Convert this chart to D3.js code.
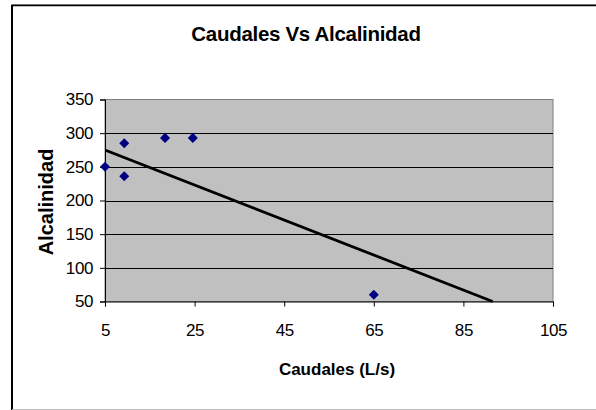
<!DOCTYPE html>
<html><head><meta charset="utf-8">
<script src="https://cdn.jsdelivr.net/npm/d3@7"></script>
<style>html,body{margin:0;padding:0;background:#fff;}svg{display:block;font-family:Arial,"Liberation Sans",sans-serif;}</style>
</head><body>
<svg id="c" width="596" height="410"></svg>
<script>
const title = "Caudales Vs Alcalinidad";
const xTitle = "Caudales (L/s)";
const yTitle = "Alcalinidad";
const caudales = [5, 9.3, 9.3, 18.4, 24.6, 65];
const alcalinidad = [250, 285, 236, 293, 293, 60];
const xTicks = [5, 25, 45, 65, 85, 105];
const yTicks = [50, 100, 150, 200, 250, 300, 350];
const trendSlope = -2.6;
const trendIntercept = 288;

const svg = d3.select("#c");
// outer frame
svg.append("rect").attr("x",0).attr("y",0).attr("width",596).attr("height",410).attr("fill","#fff");
svg.append("line").attr("x1",11).attr("x2",596).attr("y1",4.5).attr("y2",4.5).attr("stroke","#999").attr("stroke-width",1);
svg.append("line").attr("x1",12).attr("x2",596).attr("y1",5.5).attr("y2",5.5).attr("stroke","#000").attr("stroke-width",1.5);
svg.append("line").attr("x1",12).attr("x2",12).attr("y1",5).attr("y2",410).attr("stroke","#000").attr("stroke-width",2);
svg.append("line").attr("x1",12).attr("x2",596).attr("y1",409.5).attr("y2",409.5).attr("stroke","#bbb").attr("stroke-width",1);

const L = 105, R = 553, T = 99.5, B = 301.5;
const x = d3.scaleLinear().domain([5,105]).range([L,R]);
const y = d3.scaleLinear().domain([50,350]).range([B,T]);

svg.append("rect").attr("x",L).attr("y",T).attr("width",R-L).attr("height",B-T).attr("fill","#c0c0c0").attr("stroke","#808080").attr("stroke-width",1);

// gridlines
svg.append("g").selectAll("line").data(yTicks.filter(d=>d>50 && d<350)).join("line")
  .attr("x1",L).attr("x2",R).attr("y1",d=>Math.round(y(d))+0.5).attr("y2",d=>Math.round(y(d))+0.5)
  .attr("stroke","#000").attr("stroke-width",1);

// axes
const gx = svg.append("g").attr("transform",`translate(0,${B})`)
  .call(d3.axisBottom(x).tickValues(xTicks).tickSize(5).tickPadding(17).tickFormat(d3.format("d")));
const gy = svg.append("g").attr("transform",`translate(${L},0)`)
  .call(d3.axisLeft(y).tickValues(yTicks).tickSize(5).tickPadding(7).tickFormat(d3.format("d")));
[gx,gy].forEach(g=>{
  g.select(".domain").attr("stroke","#000");
  g.selectAll(".tick line").attr("stroke","#000");
  g.selectAll("text").attr("font-size",17).attr("fill","#000").attr("letter-spacing",-0.4)
    .attr("font-family","Arial,'Liberation Sans',sans-serif");
});
gx.selectAll(".tick text").attr("dy","0.71em");

// trendline clipped to plot
svg.append("clipPath").attr("id","clip").append("rect").attr("x",L).attr("y",T).attr("width",R-L).attr("height",B-T+2);
const tx0 = 5, tx1 = (50 - trendIntercept)/trendSlope;
svg.append("line").attr("clip-path","url(#clip)")
  .attr("x1",x(tx0)).attr("y1",y(trendIntercept+trendSlope*tx0))
  .attr("x2",x(tx1)).attr("y2",y(trendIntercept+trendSlope*tx1))
  .attr("stroke","#000").attr("stroke-width",2.8);

// points
const pts = caudales.map((c,i)=>({c, a: alcalinidad[i]}));
svg.append("g").selectAll("path").data(pts).join("path")
  .attr("d", d3.symbol(d3.symbolDiamond2, 64))
  .attr("transform", d=>`translate(${x(d.c)},${y(d.a)})`)
  .attr("fill","#000080");

// titles
svg.append("text").attr("x",306).attr("y",41).attr("text-anchor","middle")
  .attr("font-size",20.5).attr("font-weight","bold").attr("letter-spacing",-0.3).text(title);
svg.append("text").attr("x",337).attr("y",375).attr("text-anchor","middle")
  .attr("font-size",17).attr("font-weight","bold").text(xTitle);
svg.append("text").attr("transform","translate(53,202) rotate(-90)").attr("text-anchor","middle")
  .attr("font-size",20).attr("font-weight","bold").text(yTitle);
</script>
</body></html>
